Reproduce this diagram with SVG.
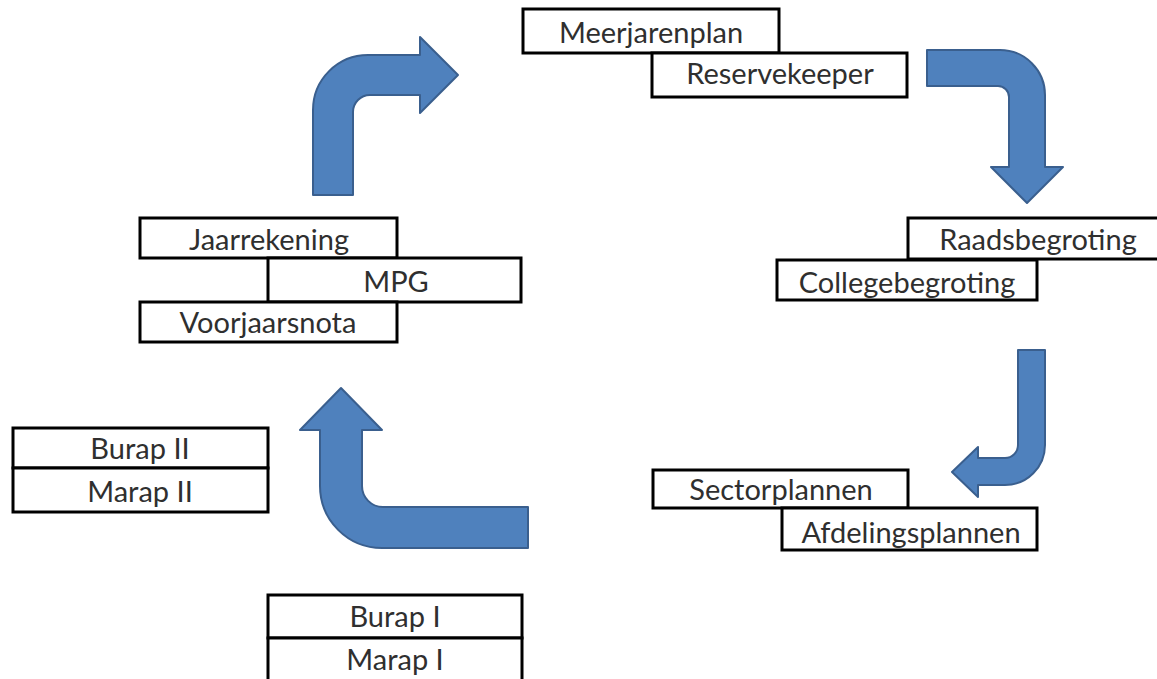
<svg xmlns="http://www.w3.org/2000/svg" width="1157" height="679" viewBox="0 0 1157 679">
<style>
.box{fill:#ffffff;stroke:#000000;stroke-width:3}
.lbl{font-family:Lato,"Open Sans","Liberation Sans",sans-serif;font-size:29px;fill:#2f2f2f;text-anchor:middle}
.arr{fill:#4f81bd;stroke:#3a5f8e;stroke-width:2;stroke-linejoin:round}
</style>
<rect width="1157" height="679" fill="#ffffff"/>
<g id="connectors">
<path class="arr" d="M313,195 L313,110 A55,55 0 0 1 368,55 L420,55 L420,37 L458,75 L420,113 L420,95 L370,95 A17,17 0 0 0 353,112 L353,195 Z"/>
<path class="arr" d="M927,50 L1000,50 A45,45 0 0 1 1045,95 L1045,167 L1063,167 L1027,203 L991,167 L1009,167 L1009,97 A11,11 0 0 0 998,86 L927,86 Z"/>
<path class="arr" d="M1018,350 L1045,350 L1045,445 A40,40 0 0 1 1005,485 L978,485 L978,497 L952,472 L978,447 L978,458 L1005,458 A13,13 0 0 0 1018,445 Z"/>
<path class="arr" d="M528,507 L383,507 A21,21 0 0 1 362,486 L362,430 L382,430 L341,388 L300,430 L320,430 L320,486 A62,62 0 0 0 382,548 L528,548 Z"/>
</g>
<g id="meerjarenplan"><rect class="box" x="523" y="9" width="256" height="44"/><text class="lbl" x="651" y="43">Meerjarenplan</text></g>
<g id="reservekeeper"><rect class="box" x="652" y="53" width="255" height="44"/><text class="lbl" x="780" y="84">Reservekeeper</text></g>
<g id="jaarrekening"><rect class="box" x="140" y="218" width="257" height="40"/><text class="lbl" x="269" y="250">Jaarrekening</text></g>
<g id="mpg"><rect class="box" x="268" y="258" width="253" height="44"/><text class="lbl" x="396" y="292">MPG</text></g>
<g id="voorjaarsnota"><rect class="box" x="140" y="302" width="257" height="40"/><text class="lbl" x="268" y="333">Voorjaarsnota</text></g>
<g id="raadsbegroting"><rect class="box" x="908" y="218" width="256" height="41"/><text class="lbl" x="1038" y="250">Raadsbegroting</text></g>
<g id="collegebegroting"><rect class="box" x="777" y="260" width="260" height="40"/><text class="lbl" x="907" y="293">Collegebegroting</text></g>
<g id="sectorplannen"><rect class="box" x="653" y="470" width="255" height="38"/><text class="lbl" x="781" y="500">Sectorplannen</text></g>
<g id="afdelingsplannen"><rect class="box" x="782" y="508" width="255" height="42"/><text class="lbl" x="911" y="543">Afdelingsplannen</text></g>
<g id="burap2"><rect class="box" x="13" y="428" width="255" height="40"/><text class="lbl" x="140" y="459">Burap II</text></g>
<g id="marap2"><rect class="box" x="13" y="468" width="255" height="44"/><text class="lbl" x="140" y="502">Marap II</text></g>
<g id="burap1"><rect class="box" x="268" y="595" width="254" height="43"/><text class="lbl" x="395" y="627">Burap I</text></g>
<g id="marap1"><rect class="box" x="268" y="638" width="254" height="43"/><text class="lbl" x="395" y="670">Marap I</text></g>
</svg>
